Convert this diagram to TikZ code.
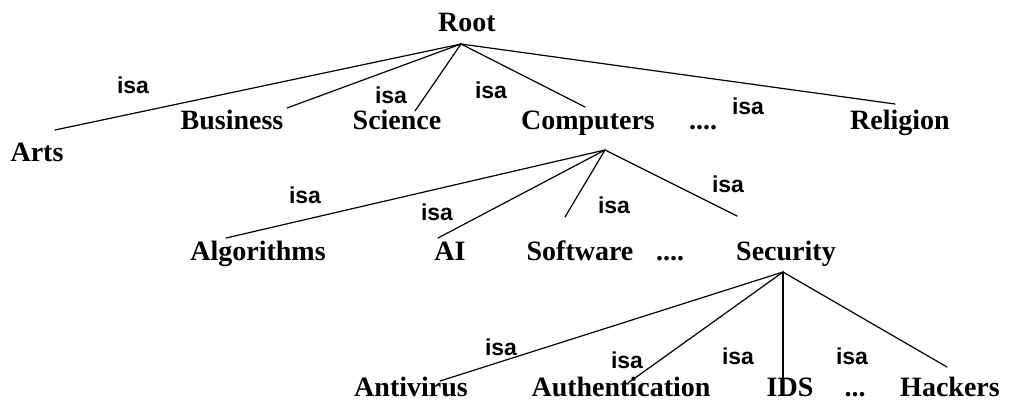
\documentclass[tikz,border=0pt]{standalone}
\usepackage{fontspec}
\setmainfont{Liberation Serif}
\newfontfamily\isafont{Liberation Sans}
\usetikzlibrary{positioning}

\begin{document}
\begin{tikzpicture}[x=1pt, y=-1pt,
        concept/.style={font=\fontsize{28}{30}\selectfont\bfseries, inner sep=0pt, anchor=base},
        isa/.style={font=\isafont\fontsize{23}{25}\selectfont\bfseries, inner sep=0pt},
        link/.style={line width=1.2pt, line cap=round}]
    \useasboundingbox (0,0) rectangle (1021,405);
    % level 0 and 1
    \node[concept] (root) at (467,31) {Root};
    \coordinate (root-apex) at (461,44);
    \node[concept] (arts) at (37,161) {Arts};
    \node[concept] (business) at (232,129) {Business};
    \node[concept] (science) at (397,129) {Science};
    \node[concept] (computers) at (588,129) {Computers};
    \node[concept] (dots1) at (703,129) {....};
    \node[concept] (religion) at (900,129) {Religion};
    \foreach \name/\ex/\ey in {arts/55/130, business/287/108, science/415/111,
                               computers/585/107, religion/895/104} {
        \coordinate (\name-end) at (\ex,\ey);
        \draw[link] (root-apex) -- (\name-end);
    }
    \foreach \x/\y [count=\i] in {133/85, 391/95, 491/90, 748/106}
        \node[isa] (isa-a\i) at (\x,\y) {isa};
    % level 2
    \coordinate (computers-apex) at (605,150);
    \node[concept] (algorithms) at (258,260) {Algorithms};
    \node[concept] (ai) at (450,260) {AI};
    \node[concept] (software) at (580,260) {Software};
    \node[concept] (dots2) at (670,260) {....};
    \node[concept] (security) at (786,260) {Security};
    \foreach \name/\ex/\ey in {algorithms/226/238, ai/438/238, software/565/217,
                               security/737/216} {
        \coordinate (\name-end) at (\ex,\ey);
        \draw[link] (computers-apex) -- (\name-end);
    }
    \foreach \x/\y [count=\i] in {305/195, 437/212, 614/205, 728/184}
        \node[isa] (isa-b\i) at (\x,\y) {isa};
    % level 3
    \coordinate (security-apex) at (783,272);
    \node[concept] (antivirus) at (411,396) {Antivirus};
    \node[concept] (authentication) at (621,396) {Authentication};
    \node[concept] (ids) at (790,396) {IDS};
    \node[concept] (dots3) at (855,396) {...};
    \node[concept] (hackers) at (950,396) {Hackers};
    \foreach \name/\ex/\ey in {antivirus/440/381, authentication/628/383,
                               ids/783/394, hackers/947/367} {
        \coordinate (\name-end) at (\ex,\ey);
        \draw[link] (security-apex) -- (\name-end);
    }
    \foreach \x/\y [count=\i] in {501/347, 627/360, 738/356, 852/356}
        \node[isa] (isa-c\i) at (\x,\y) {isa};
\end{tikzpicture}
\end{document}
